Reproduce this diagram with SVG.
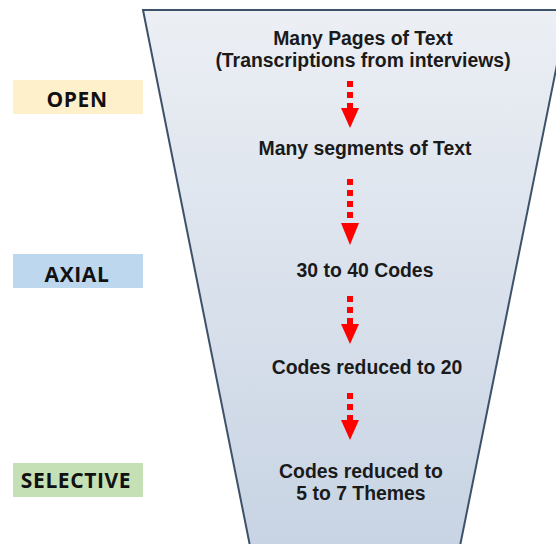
<svg xmlns="http://www.w3.org/2000/svg" width="556" height="544" viewBox="0 0 556 544">
<style>
.t{font-family:"Liberation Sans",Arial,sans-serif;font-weight:bold;font-size:19.4px;fill:#1a1a1a;text-anchor:middle}
.l{font-family:"Open Sans","Liberation Sans",sans-serif;font-weight:bold;font-size:21px;letter-spacing:0.6px;fill:#111;text-anchor:middle}
.d{stroke:#ff0000;stroke-width:6;stroke-dasharray:6 5;fill:none}
.h{fill:#ff0000}
</style>
<defs>
<linearGradient id="g" x1="0" y1="0" x2="0" y2="1">
<stop offset="0" stop-color="#eceff4"/>
<stop offset="1" stop-color="#c8d4e4"/>
</linearGradient>
</defs>
<g id="funnel">
<polygon points="143,10 568,10 460,546 250,546" fill="url(#g)" stroke="#3d5269" stroke-width="2"/>
</g>
<g id="open"><rect x="13" y="80" width="130" height="34" fill="#fff0cc"/><text class="l" x="77" y="107">OPEN</text></g>
<g id="axial"><rect x="13" y="254" width="130" height="34" fill="#bdd7ee"/><text class="l" x="77" y="282">AXIAL</text></g>
<g id="selective"><rect x="13" y="463" width="130" height="34" fill="#c5e0b4"/><text class="l" x="76" y="488">SELECTIVE</text></g>
<g id="n1"><text class="t" x="363" y="45">Many Pages of Text</text><text class="t" x="363" y="67">(Transcriptions from interviews)</text></g>
<g id="n2"><text class="t" x="365" y="155">Many segments of Text</text></g>
<g id="n3"><text class="t" x="365" y="277">30 to 40 Codes</text></g>
<g id="n4"><text class="t" x="367" y="374">Codes reduced to 20</text></g>
<g id="n5"><text class="t" x="361" y="478">Codes reduced to</text><text class="t" x="361" y="500">5 to 7 Themes</text></g>
<g id="connectors">
<line class="d" x1="350" y1="81" x2="350" y2="108"/><polygon class="h" points="341,108 359,108 350,128"/>
<line class="d" x1="350" y1="179" x2="350" y2="223"/><polygon class="h" points="341,223 359,223 350,245"/>
<line class="d" x1="350" y1="296" x2="350" y2="324"/><polygon class="h" points="341,324 359,324 350,344"/>
<line class="d" x1="350" y1="393" x2="350" y2="420"/><polygon class="h" points="341,420 359,420 350,440"/>
</g>
</svg>
